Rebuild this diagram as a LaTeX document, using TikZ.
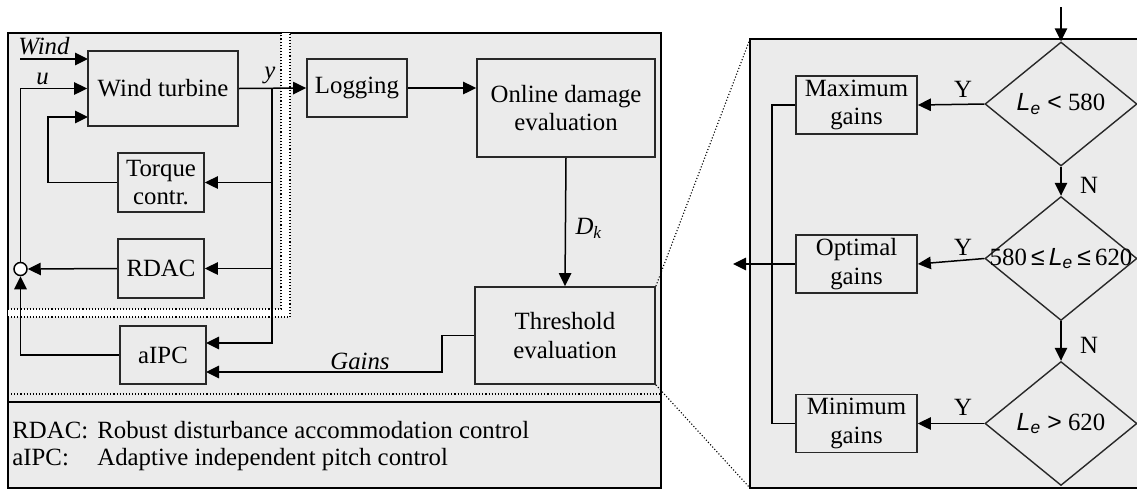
\documentclass[tikz,border=0pt]{standalone}
\usepackage{fontspec}
\setmainfont{Liberation Serif}
\newfontfamily\lsans{Liberation Sans}
\usepackage{tikz}
\usetikzlibrary{shapes.geometric}
\usetikzlibrary{arrows.meta}
\usetikzlibrary{calc}
\pgfdeclarelayer{bglayer}
\pgfdeclarelayer{nodelayer}
\pgfdeclarelayer{edgelayer}
\pgfsetlayers{bglayer,edgelayer,nodelayer,main}
\definecolor{panelgrey}{RGB}{235,235,235}
\definecolor{linegrey}{RGB}{40,40,40}
\newcommand{\Le}{{\lsans\itshape L}\textsubscript{\lsans\itshape e}}
\tikzstyle{none}=[inner sep=0pt]
\tikzset{blk/.style={draw=linegrey, line width=0.85pt, inner sep=0pt, align=center}}
\tikzset{cond/.style={draw=linegrey, line width=0.7pt, diamond, inner sep=0pt,
minimum width=76pt, minimum height=62pt}}
\tikzset{sumpt/.style={draw, circle, fill=white, line width=0.75pt, minimum size=6.5pt, inner sep=0pt}}
\tikzset{flow/.style={-{Triangle[length=6.5pt,width=6.2pt]}, line width=0.75pt}}
\tikzset{plain/.style={line width=0.75pt}}
\tikzset{zoomline/.style={densely dotted, line width=0.55pt}}

\begin{document}
\begin{tikzpicture}[x=0.5pt, y=-0.5pt, font=\fontsize{12.4}{14.2}\selectfont]
        \useasboundingbox (0,0) rectangle (1137,489);
        \begin{pgfonlayer}{bglayer}
            \draw [fill=panelgrey, line width=0.7pt] (8,33) rectangle (661,488);
            \fill [white] (8,309) -- (281,309) -- (281,33) -- (290,33) -- (290,317) -- (8,317) -- cycle;
            \draw [zoomline] (8,309) -- (281,309) -- (281,33);
            \draw [zoomline] (8,317) -- (290,317) -- (290,33);
            \draw [zoomline] (8,394) -- (661,394);
            \draw [line width=0.7pt] (8,402) -- (661,402);
            \fill [panelgrey] (750,39) rectangle (1137,488);
            \draw [line width=0.7pt] (1137,39) -- (750,39) -- (750,488) -- (1137,488);
        \end{pgfonlayer}
        \begin{pgfonlayer}{nodelayer}
            \node [blk, minimum width=75pt, minimum height=37.5pt] (0) at (163,88.5) {Wind turbine};
            \node [blk, minimum width=43pt, minimum height=29.5pt] (1) at (161,182.5) {Torque\\contr.};
            \node [blk, minimum width=43pt, minimum height=29.5pt] (2) at (161,268.5) {RDAC};
            \node [blk, minimum width=43pt, minimum height=29pt] (3) at (163,355) {aIPC};
            \node [blk, minimum width=50pt, minimum height=29pt] (4) at (357,88) {Logging};
            \node [blk, minimum width=89pt, minimum height=49pt] (5) at (566,108) {Online damage\\evaluation};
            \node [blk, minimum width=90pt, minimum height=48.5pt] (6) at (565,335.5) {Threshold\\evaluation};
            \node [sumpt] (7) at (20.5,269) {};
            \coordinate (8) at (20,59);
            \coordinate (9) at (88,59);
            \coordinate (10) at (88,117);
            \coordinate (11) at (48,117);
            \coordinate (12) at (272,88);
            \coordinate (13) at (206,343);
            \coordinate (14) at (206,372);
            \coordinate (15) at (442,335.5);
            \node [style=none] (16) at (44,46) {\textit{Wind}};
            \node [style=none] (17) at (42.5,79) {\textit{u}};
            \node [style=none] (18) at (270,75) {\textit{y}};
            \node [style=none] (19) at (589,228) {\textit{D}\textsubscript{\textit{k}}};
            \node [style=none] (20) at (360,361) {\textit{Gains}};
            \node [style=none, anchor=base west] (21) at (12,438) {RDAC:};
            \node [style=none, anchor=base west] (22) at (97,438) {Robust disturbance accommodation control};
            \node [style=none, anchor=base west] (23) at (12,465) {aIPC:};
            \node [style=none, anchor=base west] (24) at (97,465) {Adaptive independent pitch control};
            \node [cond] (30) at (1061,104) {\makebox[0pt]{\Le{} {\lsans<} 580}};
            \node [cond] (31) at (1061,258.5) {\makebox[0pt]{580\,{\lsans≤}\,\Le{}\,{\lsans≤}\,620}};
            \node [cond] (32) at (1061,423.5) {\makebox[0pt]{\Le{} {\lsans>} 620}};
            \node [blk, minimum width=60.5pt, minimum height=29pt] (33) at (856.5,105) {Maximum\\gains};
            \node [blk, minimum width=60.5pt, minimum height=29pt] (34) at (856.5,264) {Optimal\\gains};
            \node [blk, minimum width=60.5pt, minimum height=29pt] (35) at (856.5,423.5) {Minimum\\gains};
            \coordinate (36) at (1061,7);
            \coordinate (37) at (772,105);
            \coordinate (38) at (733,264);
            \node [style=none] (39) at (963,89) {Y};
            \node [style=none] (40) at (963,247) {Y};
            \node [style=none] (41) at (963,407) {Y};
            \node [style=none] (42) at (1089,185) {N};
            \node [style=none] (43) at (1089,345) {N};
            \coordinate (44) at (750,39);
            \coordinate (45) at (750,488);
        \end{pgfonlayer}
        \begin{pgfonlayer}{edgelayer}
            \draw [flow] (8) to (9);
            \draw [flow] (7.north) |- (0.west);
            \draw [flow] (1.west) -| (11) -- (10);
            \draw [flow] (0.east) to (4.west);
            \draw [plain] (12) to (12 |- 13);
            \draw [flow] (12) |- (1.east);
            \draw [flow] (12) |- (2.east);
            \draw [flow] (12) |- (13);
            \draw [flow] (2.west) to (7.east);
            \draw [flow] (3.west) -| (7.south);
            \draw [flow] (4.east) to (4.east -| 5.west);
            \draw [flow] (5.south) to (6.north);
            \draw [flow] (6.west) -- (15) |- (14);
            \draw [flow] (36) to (30.north);
            \draw [flow] (30.south) to (31.north);
            \draw [flow] (31.south) to (32.north);
            \draw [flow] (30.west) to (33.east);
            \draw [flow] (31.west) to (34.east);
            \draw [flow] (32.west) to (35.east);
            \draw [plain] (33.west) -- (37) |- (35.west);
            \draw [flow] (34.west) to (38);
            \draw [zoomline] (6.north east) to (44);
            \draw [zoomline] (6.south east) to (45);
        \end{pgfonlayer}
    \end{tikzpicture}
\end{document}
